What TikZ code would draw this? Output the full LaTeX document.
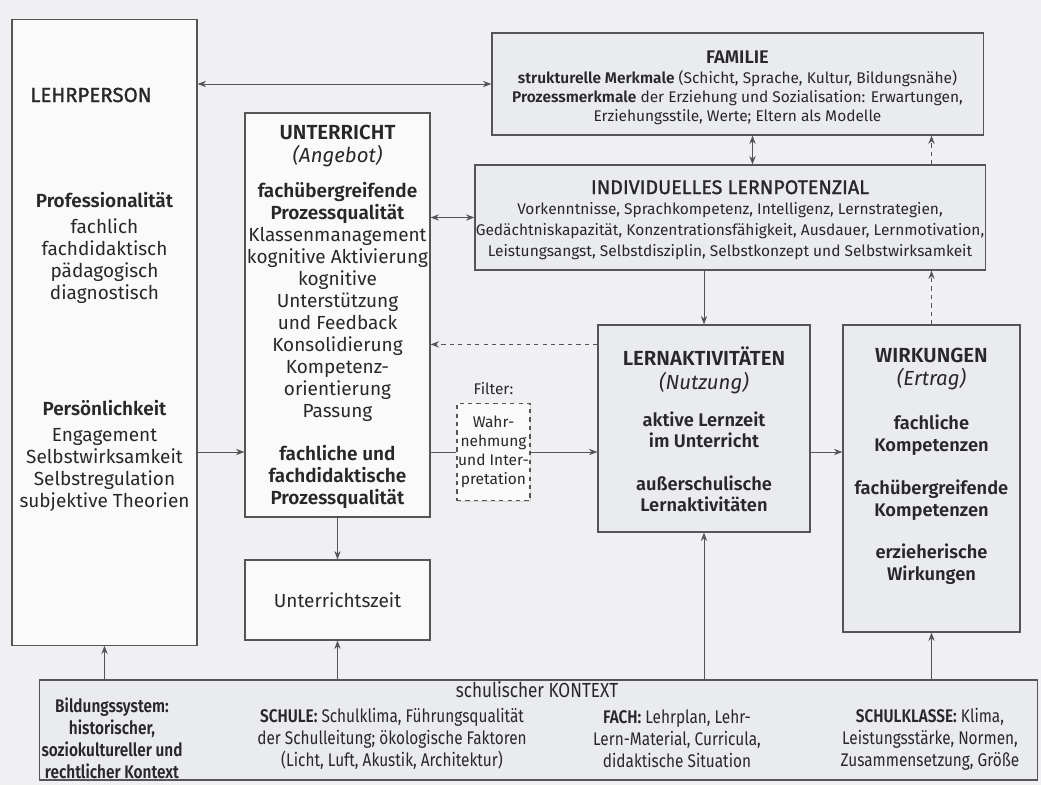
\documentclass[tikz,border=0pt]{standalone}
\usepackage{fontspec}
\setmainfont{Fira Sans}[BoldFont={Fira Sans SemiBold}]
\newfontfamily\mittel{Fira Sans}[FakeBold=1.3]
\newfontfamily\schmal{Fira Sans}[FakeStretch=0.84, BoldFont={Fira Sans SemiBold}]
\usetikzlibrary{arrows.meta,calc,positioning,shadows}

\begin{document}
\begin{tikzpicture}[x=0.025cm, y=-0.025cm, >={Stealth[length=6pt, width=4.5pt]}]
  % Definición de colores
  \definecolor{fondo}{RGB}{240, 240, 242}   % Papel
  \definecolor{cajaclara}{RGB}{250, 250, 250} % Cajas blancas
  \definecolor{cajagris}{RGB}{234, 235, 238}  % Cajas grises
  \definecolor{linea}{RGB}{85, 85, 88}        % Bordes y flechas
  \definecolor{texto}{RGB}{40, 40, 42}

  % --- Estilos ---
  \tikzset{
    caja/.style={draw=linea, line width=0.8pt, fill=cajaclara, inner sep=0pt,
      drop shadow={shadow xshift=0.7pt, shadow yshift=-0.7pt, opacity=0.25}},
    cajagrau/.style={caja, fill=cajagris},
    flecha/.style={draw=linea, line width=0.7pt},
    titel/.style={text=texto, font=\fontsize{14.5}{17}\selectfont, align=center},
    inhalt/.style={text=texto, font=\fontsize{13.5}{15.6}\selectfont, align=center},
    klein/.style={text=texto, font=\fontsize{11}{13.6}\selectfont, align=center},
    kontext/.style={text=texto, font=\schmal\fontsize{13}{15.6}\selectfont, align=center}
  }

  % Fondo y marco del dibujo
  \fill[fondo] (0,0) rectangle (1041,785);

  % --- Cajas ---
  \node[caja, minimum width=4.625cm, minimum height=15.625cm] (lehrer) at (104.5,332.5) {};
  \node[caja, minimum width=4.625cm, minimum height=10.1cm] (unterricht) at (337.5,315) {};
  \node[caja, minimum width=4.625cm, minimum height=2cm] (zeit) at (337.5,600) {};
  \node[cajagrau, minimum width=12.275cm, minimum height=2.55cm] (familie) at (737.5,84) {};
  \node[cajagrau, minimum width=12.75cm, minimum height=2.625cm] (potenzial) at (730,217.5) {};
  \node[cajagrau, minimum width=5.3cm, minimum height=5.175cm] (aktiv) at (704,428.5) {};
  \node[cajagrau, minimum width=4.425cm, minimum height=7.675cm] (wirkung) at (931.5,478.5) {};
  \node[caja, dashed, minimum width=1.825cm, minimum height=2.425cm] (filter) at (493.5,452) {};
  \node[cajagrau, minimum width=24.925cm, minimum height=2.5cm] (kontext) at (538.5,730) {};

  % --- Textos: Lehrperson ---
  \node[titel, font=\mittel\fontsize{14.5}{17}\selectfont] (lehrertitel) at (91,95) {LEHRPERSON};
  \node[inhalt] (profi) at (104.5,248) {\textbf{Professionalität}\\[3pt] fachlich\\ fachdidaktisch\\ pädagogisch\\ diagnostisch};
  \node[inhalt] (person) at (104.5,456) {\textbf{Persönlichkeit}\\[3pt] Engagement\\ Selbstwirksamkeit\\ Selbstregulation\\ subjektive Theorien};

  % --- Textos: Unterricht ---
  \node[titel] (untertitel) at (337.5,146) {\textbf{UNTERRICHT}\\ \textit{(Angebot)}};
  \node[inhalt] (prozess) at (337.5,302) {\textbf{fachübergreifende}\\ \textbf{Prozessqualität}\\ Klassenmanagement\\ kognitive Aktivierung\\ kognitive\\ Unterstützung\\ und Feedback\\ Konsolidierung\\ Kompetenz-\\ orientierung\\ Passung};
  \node[inhalt] (fachlich) at (337.5,477) {\textbf{fachliche und}\\ \textbf{fachdidaktische}\\ \textbf{Prozessqualität}};
  \node[inhalt] (zeittext) at (zeit) {Unterrichtszeit};

  % --- Textos: Familie y Lernpotenzial ---
  \node[klein] (familietext) at (737.5,88) {\fontsize{13}{15}\selectfont\textbf{FAMILIE}\\ \textbf{strukturelle Merkmale} (Schicht, Sprache, Kultur, Bildungsnähe)\\ \textbf{Prozessmerkmale} der Erziehung und Sozialisation: Erwartungen,\\ Erziehungsstile, Werte; Eltern als Modelle};
  \node[klein, font=\fontsize{11}{14.8}\selectfont] (potenzialtext) at (730,220) {{\mittel\fontsize{14}{18}\selectfont INDIVIDUELLES LERNPOTENZIAL}\\ Vorkenntnisse, Sprachkompetenz, Intelligenz, Lernstrategien,\\ Gedächtniskapazität, Konzentrationsfähigkeit, Ausdauer, Lernmotivation,\\ Leistungsangst, Selbstdisziplin, Selbstkonzept und Selbstwirksamkeit};

  % --- Textos: Lernaktivitäten y Wirkungen ---
  \node[titel] (aktivtitel) at (704,370) {\textbf{LERNAKTIVITÄTEN}\\ \textit{(Nutzung)}};
  \node[inhalt, font=\fontsize{13}{15.3}\selectfont\bfseries] (lernzeit) at (704,430) {aktive Lernzeit\\ im Unterricht};
  \node[inhalt, font=\fontsize{13}{15.3}\selectfont\bfseries] (ausser) at (704,494) {außerschulische\\ Lernaktivitäten};
  \node[titel] (wirkungtitel) at (931.5,369) {\textbf{WIRKUNGEN}\\ \textit{(Ertrag)}};
  \node[inhalt, font=\fontsize{13}{15.3}\selectfont\bfseries] (fachkomp) at (931.5,435) {fachliche\\ Kompetenzen};
  \node[inhalt, font=\fontsize{13}{15.3}\selectfont\bfseries] (uebkomp) at (931.5,500) {fachübergreifende\\ Kompetenzen};
  \node[inhalt, font=\fontsize{13}{15.3}\selectfont\bfseries] (erzieh) at (931.5,564) {erzieherische\\ Wirkungen};

  % --- Filtro ---
  \node[klein] (filtertitel) at (493.5,389) {Filter:};
  \node[klein] (filtertext) at (filter) {Wahr-\\ nehmung\\ und Inter-\\ pretation};

  % --- Textos: Kontext ---
  \node[kontext, font=\schmal\fontsize{14.5}{16}\selectfont] (kontexttitel) at (537,690) {schulischer KONTEXT};
  \node[kontext] (bildung) at (112,738) {\textbf{Bildungssystem:}\\ \textbf{historischer,}\\ \textbf{soziokultureller und}\\ \textbf{rechtlicher Kontext}};
  \node[kontext] (schule) at (392,739) {\textbf{SCHULE:} Schulklima, Führungsqualität\\ der Schulleitung; ökologische Faktoren\\ (Licht, Luft, Akustik, Architektur)};
  \node[kontext] (fach) at (677,739) {\textbf{FACH:} Lehrplan, Lehr-\\ Lern-Material, Curricula,\\ didaktische Situation};
  \node[kontext] (klasse) at (930,739) {\textbf{SCHULKLASSE:} Klima,\\ Leistungsstärke, Normen,\\ Zusammensetzung, Größe};

  % --- Flechas ---
  \coordinate (rueck) at ($(aktiv.north west)+(0,20)$);
  \coordinate (famfuss) at ($(familie.south)+(15,0)$);
  \draw[flecha, <->] (lehrer.east |- familie.west) -- (familie.west);
  \draw[flecha, <->] (unterricht.east |- potenzial.west) -- (potenzial.west);
  \draw[flecha, <->] (famfuss) -- (famfuss |- potenzial.north);
  \draw[flecha, ->] (potenzial.south -| aktiv.north) -- (aktiv.north);
  \draw[flecha, ->, dashed] (rueck) -- (unterricht.east |- rueck);
  \draw[flecha, ->] (lehrer.east |- filter.west) -- (unterricht.west |- filter.west);
  \draw[flecha] (unterricht.east |- filter.west) -- (filter.west);
  \draw[flecha, ->] (filter.east) -- (aktiv.west |- filter.east);
  \draw[flecha, ->] (aktiv.east |- filter.east) -- (wirkung.west |- filter.east);
  \draw[flecha, ->] (unterricht.south) -- (zeit.north);
  \draw[flecha, ->, dashed] (wirkung.north) -- (wirkung.north |- potenzial.south);
  \draw[flecha, ->, dashed] (wirkung.north |- potenzial.north) -- (wirkung.north |- familie.south);

  % Flechas desde el contexto escolar
  \draw[flecha, ->] (kontext.north -| lehrer.south) -- (lehrer.south);
  \draw[flecha, ->] (kontext.north -| zeit.south) -- (zeit.south);
  \draw[flecha, ->] (kontext.north -| aktiv.south) -- (aktiv.south);
  \draw[flecha, ->] (kontext.north -| wirkung.south) -- (wirkung.south);
\end{tikzpicture}
\end{document}
